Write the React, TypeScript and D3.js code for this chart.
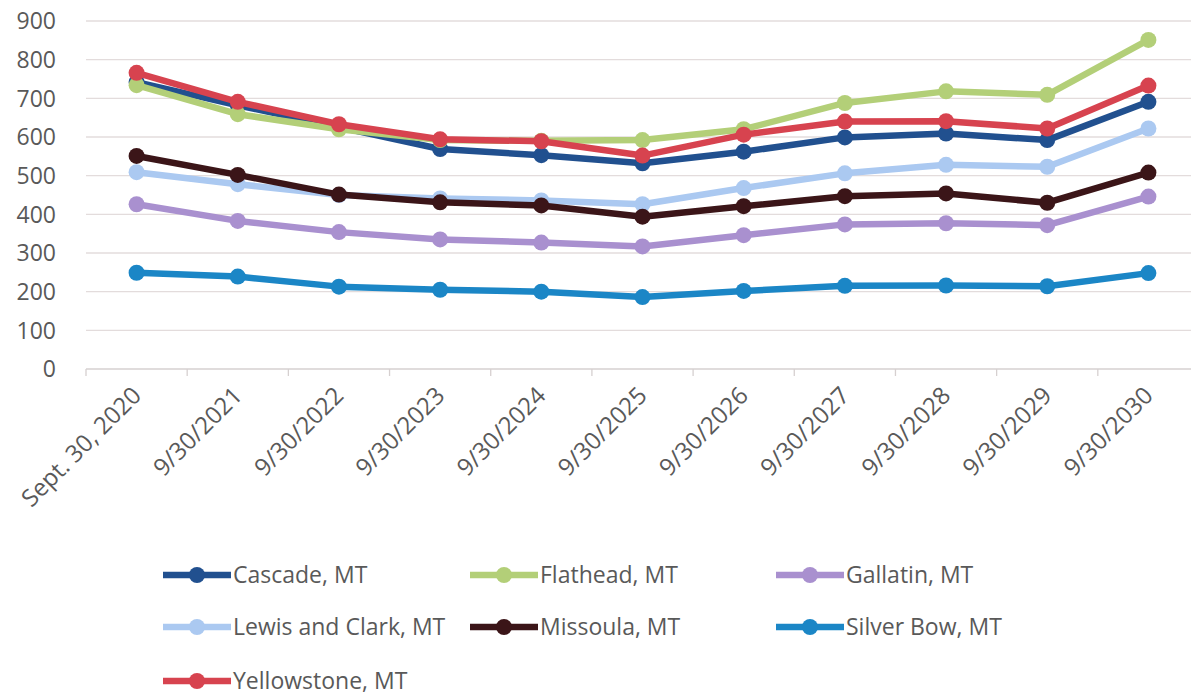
import React from "react";
import { scaleBand, scaleLinear, line } from "d3";

const categories = [
  "Sept. 30, 2020", "9/30/2021", "9/30/2022", "9/30/2023", "9/30/2024", "9/30/2025",
  "9/30/2026", "9/30/2027", "9/30/2028", "9/30/2029", "9/30/2030",
];

const yTicks = [0, 100, 200, 300, 400, 500, 600, 700, 800, 900];

const seriesNames = [
  "Cascade, MT", "Flathead, MT", "Gallatin, MT", "Lewis and Clark, MT",
  "Missoula, MT", "Silver Bow, MT", "Yellowstone, MT",
];

const cascade = [742, 682, 626, 569, 553, 532, 562, 599, 609, 592, 691];
const flathead = [734, 659, 620, 592, 590, 592, 620, 688, 718, 709, 851];
const gallatin = [426, 383, 354, 335, 327, 317, 346, 374, 377, 372, 446];
const lewisAndClark = [509, 478, 450, 441, 436, 426, 468, 506, 528, 523, 622];
const missoula = [551, 502, 451, 431, 423, 394, 421, 447, 454, 430, 508];
const silverBow = [249, 239, 213, 205, 200, 186, 202, 215, 216, 214, 248];
const yellowstone = [766, 691, 633, 594, 589, 552, 606, 640, 641, 622, 733];

const seriesValues = [cascade, flathead, gallatin, lewisAndClark, missoula, silverBow, yellowstone];
const colors = ["#21508f", "#b3cf78", "#a990cf", "#abc9f1", "#3b1518", "#1b86c6", "#d7434f"];

const W = 1191;
const H = 698;
const FONT = "'Open Sans', sans-serif";

export default function App() {
  const x = scaleBand<string>().domain(categories).range([86, 1199]);
  const y = scaleLinear().domain([0, 900]).range([369, 21]);
  const cx = (c: string) => (x(c) ?? 0) + x.bandwidth() / 2;

  const path = line<number>()
    .x((_, i) => cx(categories[i]))
    .y((d) => y(d));

  const legendCols = [163, 470, 776];
  const legendRows = [575, 627, 681];

  return (
    <svg width={W} height={H} style={{ position: "absolute", left: 0, top: 0, background: "#fff" }}>
      {/* gridlines */}
      {yTicks.map((t) => (
        <g key={t}>
          <line x1={86} x2={W} y1={y(t)} y2={y(t)} stroke={t === 0 ? "#d6d0d0" : "#e3dcdc"} strokeWidth={1.3} />
          <text x={56} y={y(t)} dy="0.36em" textAnchor="end" fontFamily={FONT} fontSize={23} fill="#595959">
            {t}
          </text>
        </g>
      ))}
      {/* x ticks */}
      {categories.map((c) => (
        <line key={c} x1={x(c)} x2={x(c)} y1={y(0)} y2={y(0) + 7} stroke="#d6d0d0" strokeWidth={1.3} />
      ))}
      {categories.map((c) => (
        <text
          key={"l" + c}
          transform={`translate(${cx(c) + 6},${397}) rotate(-45)`}
          textAnchor="end"
          fontFamily={FONT}
          fontSize={24}
          fill="#595959"
        >
          {c}
        </text>
      ))}
      {/* series */}
      {seriesValues.map((vals, si) => (
        <g key={seriesNames[si]}>
          <path d={path(vals) ?? ""} fill="none" stroke={colors[si]} strokeWidth={6.5} strokeLinejoin="round" />
          {vals.map((v, i) => (
            <circle key={i} cx={cx(categories[i])} cy={y(v)} r={8} fill={colors[si]} />
          ))}
        </g>
      ))}
      {/* legend */}
      {seriesNames.map((name, i) => {
        const lx = legendCols[i % 3];
        const ly = legendRows[Math.floor(i / 3)];
        return (
          <g key={"lg" + name}>
            <line x1={lx} x2={lx + 68} y1={ly} y2={ly} stroke={colors[i]} strokeWidth={6.5} />
            <circle cx={lx + 34} cy={ly} r={8} fill={colors[i]} />
            <text x={lx + 70} y={ly} dy="0.36em" fontFamily={FONT} fontSize={23} fill="#595959">
              {name}
            </text>
          </g>
        );
      })}
    </svg>
  );
}
